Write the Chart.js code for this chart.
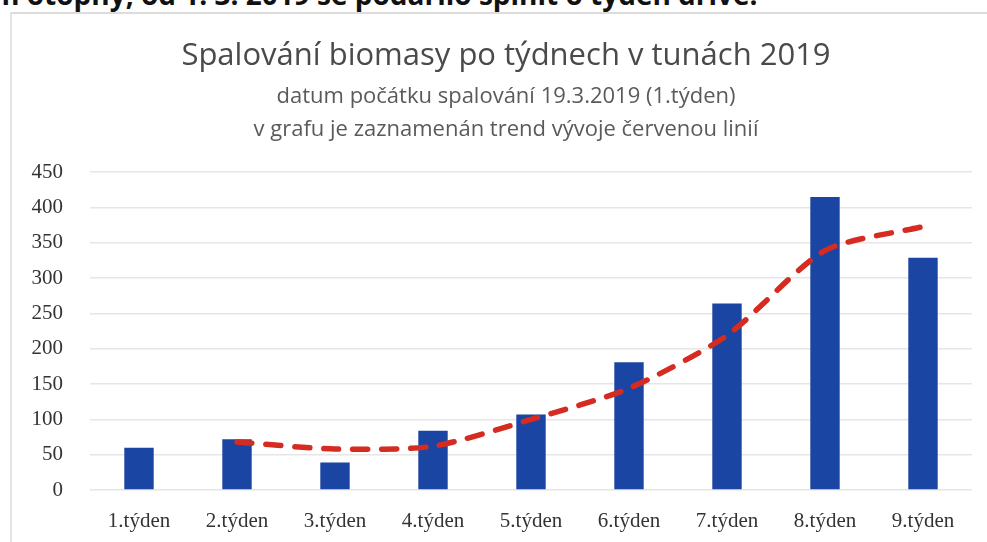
<!DOCTYPE html>
<html lang="cs">
<head>
    <meta charset="UTF-8">
    <title>Spalování biomasy po týdnech v tunách 2019</title>
    <script src="https://cdn.jsdelivr.net/npm/chart.js"></script>
    <style>
        body {
            margin: 0;
            width: 987px;
            height: 542px;
            overflow: hidden;
            background: #fff;
            position: relative;
        }

        /* kousek textu z dokumentu nad grafem, oříznutý nahoře */
        .doc-line {
            position: absolute;
            top: -25px;
            left: -8px;
            white-space: nowrap;
            font: bold 28px "Open Sans", sans-serif;
            color: #111;
        }

        .frame {
            position: absolute;
            left: 10px;
            top: 12px;
            width: 1000px;
            height: 600px;
            border-top: 2px solid #dcdcdc;
            border-left: 2px solid #e4e4e4;
        }

        #chart {
            position: absolute;
            left: 0;
            top: 0;
        }
    </style>
</head>
<body>
    <div class="doc-line">m otopný, od 1. 3. 2019 se podařilo splnit o týden dříve.</div>
    <div class="frame"></div>
    <canvas id="chart" width="987" height="542"></canvas>

    <script>
        // hodnoty
        const weeks = ['1.týden', '2.týden', '3.týden', '4.týden', '5.týden', '6.týden', '7.týden', '8.týden', '9.týden'];
        const tons = [60, 72, 39, 84, 107, 181, 264, 415, 329];
        const trend = [null, 68, 58, 62, 100, 144, 219, 339, 373];
        const yTicks = [0, 50, 100, 150, 200, 250, 300, 350, 400, 450];

        // popisky osy y nesmí být oříznuté levým okrajem
        const widenYAxis = {
            id: 'widenYAxis',
            afterLayout(chart) {
                chart.scales.y.left = 0;
            }
        };

        const ctx = document.getElementById('chart').getContext('2d');

        new Chart(ctx, {
            type: 'bar',
            data: {
                labels: weeks,
                datasets: [{
                    type: 'line',
                    label: 'trend',
                    data: trend,
                    borderColor: '#d62b20',
                    borderWidth: 5.5,
                    borderDash: [15, 14],
                    borderCapStyle: 'round',
                    tension: 0.25,
                    pointRadius: 0,
                    fill: false,
                    order: 0
                }, {
                    label: 'tuny',
                    data: tons,
                    backgroundColor: '#1b45a2',
                    barPercentage: 0.6,
                    categoryPercentage: 0.5,
                    order: 1
                }]
            },
            plugins: [widenYAxis],
            options: {
                responsive: false,
                animation: false,
                layout: {
                    padding: { left: 40, right: 15, top: 0, bottom: 0 }
                },
                plugins: {
                    legend: { display: false },
                    tooltip: { enabled: false },
                    title: {
                        display: true,
                        text: 'Spalování biomasy po týdnech v tunách 2019',
                        color: '#4a4a4a',
                        font: { family: 'Open Sans', size: 31, weight: 'normal', lineHeight: 1.2 },
                        padding: { top: 38, bottom: 0 }
                    },
                    subtitle: {
                        display: true,
                        text: ['datum počátku spalování 19.3.2019 (1.týden)', 'v grafu je zaznamenán trend vývoje červenou linií'],
                        color: '#5a5a5a',
                        font: { family: 'Open Sans', size: 22, weight: 'normal', lineHeight: 1.5 },
                        padding: { top: 5, bottom: 26 }
                    }
                },
                scales: {
                    x: {
                        afterFit: (s) => { s.height = 52; },
                        grid: { display: false, drawTicks: false },
                        border: { display: false },
                        ticks: {
                            color: '#333',
                            padding: 19,
                            font: { family: 'Liberation Serif', size: 21, lineHeight: 1.2 }
                        }
                    },
                    y: {
                        min: 0,
                        max: 450,
                        afterFit: (s) => { s.width = 50; },
                        afterBuildTicks: (s) => { s.ticks = yTicks.map(v => ({ value: v })); },
                        grid: { color: '#e6e6e6', lineWidth: 1.5, drawTicks: false },
                        border: { display: false },
                        ticks: {
                            color: '#333',
                            padding: 27,
                            font: { family: 'Liberation Serif', size: 21 }
                        }
                    }
                }
            }
        });
    </script>
</body>
</html>
